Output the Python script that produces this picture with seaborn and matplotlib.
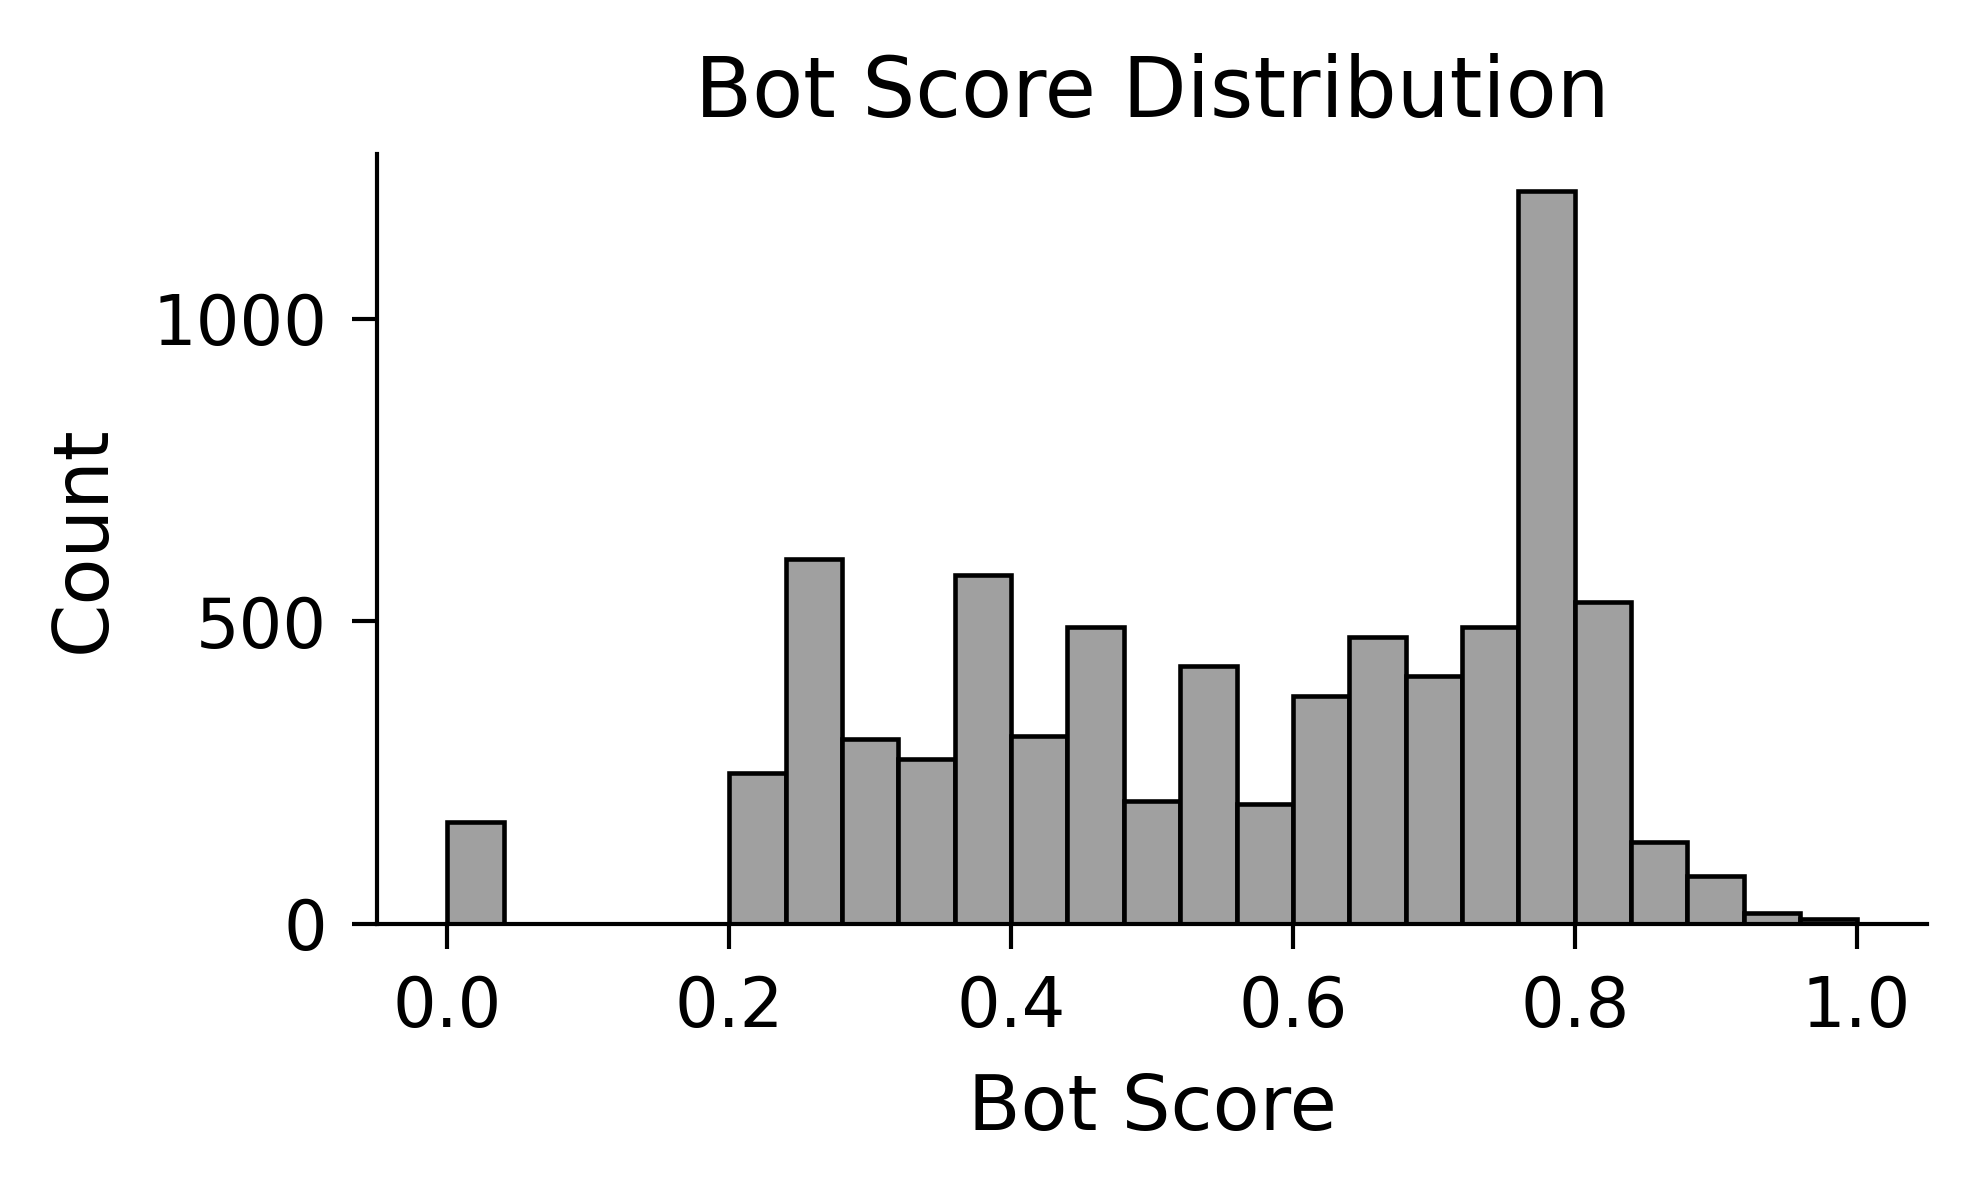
import numpy as np
import matplotlib
matplotlib.use("Agg")
import matplotlib.pyplot as plt
import seaborn as sns

# histogram bins: 25 bins of width 0.04 over [0, 1]
bin_edges = np.linspace(0, 1, 26)
bin_centers = (bin_edges[:-1] + bin_edges[1:]) / 2
counts = [168, 0, 0, 0, 0, 249, 604, 306, 272, 577, 311, 491, 204,
          426, 198, 377, 474, 410, 491, 1212, 532, 136, 80, 18, 8]

sns.set_style("ticks", rc={
    "axes.edgecolor": "black", "text.color": "black",
    "axes.labelcolor": "black", "xtick.color": "black", "ytick.color": "black",
})
plt.rcParams['font.family'] = ['DejaVu Sans']
plt.rcParams['axes.linewidth'] = 1.0
plt.rcParams['xtick.major.width'] = 1.0
plt.rcParams['ytick.major.width'] = 1.0
plt.rcParams['xtick.major.size'] = 6
plt.rcParams['ytick.major.size'] = 6
plt.rcParams['xtick.major.pad'] = 6
plt.rcParams['ytick.major.pad'] = 6

fig = plt.figure(figsize=(1977 / 300, 1193 / 300), dpi=300)
ax = fig.add_axes([0.1907, 0.2255, 0.784, 0.6454])

sns.histplot(x=bin_centers, weights=counts, bins=25, binrange=(0, 1),
             color="#a0a0a0", alpha=1, edgecolor="black", linewidth=1.1, ax=ax)

ax.set_title("Bot Score Distribution", fontsize=20, pad=9)
ax.set_xlabel("Bot Score", fontsize=18.4, labelpad=7.5)
ax.set_ylabel("Count", fontsize=18.4, labelpad=7.5)
ax.tick_params(labelsize=16.5)
ax.set_yticks([0, 500, 1000])
sns.despine(ax=ax)

fig.savefig("out.png", dpi=300)
